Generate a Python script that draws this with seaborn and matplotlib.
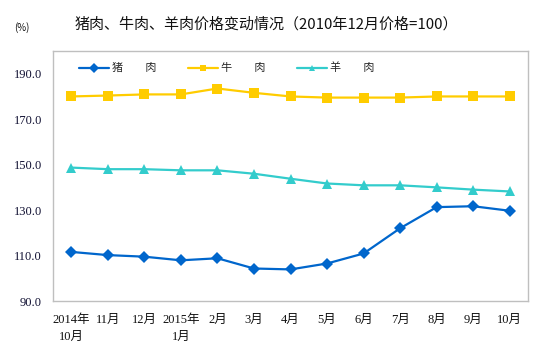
import matplotlib
matplotlib.use("Agg")
import matplotlib.pyplot as plt
import seaborn as sns
import pandas as pd

months = ["2014年\n10月", "11月", "12月", "2015年\n1月", "2月", "3月", "4月",
          "5月", "6月", "7月", "8月", "9月", "10月"]
pork = [111.6, 110.2, 109.5, 107.9, 108.8, 104.3, 103.9, 106.5, 110.9, 122.0, 131.3, 131.7, 129.7]
beef = [180.0, 180.4, 180.9, 180.9, 183.5, 181.6, 180.0, 179.5, 179.5, 179.5, 180.0, 180.0, 180.0]
lamb = [148.7, 148.0, 148.0, 147.5, 147.5, 146.0, 143.8, 141.7, 140.9, 140.9, 140.0, 139.0, 138.2]
series_names = ["猪　　肉", "牛　　肉", "羊　　肉"]
yticks = [90, 110, 130, 150, 170, 190]

sns.set_theme(style="white")
plt.rcParams['font.family'] = ['Liberation Serif', 'Noto Sans CJK SC', 'DejaVu Sans']

rows = []
for name, vals in zip(series_names, [pork, beef, lamb]):
    for i, v in enumerate(vals):
        rows.append({"x": i, "value": v, "series": name})
df = pd.DataFrame(rows)

fig = plt.figure(figsize=(5.47, 3.53), dpi=100)
ax = fig.add_axes([53/547, 1-301/353, (528-53)/547, (301-51)/353])

palette = {series_names[0]: "#0066CC", series_names[1]: "#FFCC00", series_names[2]: "#33CCCC"}
markers = {series_names[0]: "D", series_names[1]: "s", series_names[2]: "^"}
sns.lineplot(data=df, x="x", y="value", hue="series", style="series",
             palette=palette, markers=markers, dashes=False, linewidth=1.6,
             markersize=6.5, markeredgewidth=0, ax=ax, sort=False)

ax.set_xlim(-0.5, len(months) - 0.5)
ax.set_ylim(90, 200)
ax.set_xticks(range(len(months)))
ax.set_xticklabels(months, fontsize=9, color="#111111", linespacing=1.6)
ax.set_yticks(yticks)
ax.set_yticklabels([f"{v:.1f}" for v in yticks], fontsize=9, color="#111133")
ax.tick_params(axis="x", length=0, pad=9)
ax.tick_params(axis="y", length=0, pad=8)
ax.set_xlabel("")
ax.set_ylabel("")
for s in ax.spines.values():
    s.set_color("#BFBFBF")
    s.set_linewidth(1)

leg = ax.legend(loc="center left", bbox_to_anchor=(0.054, 1-(68-51)/250), ncol=3, frameon=False,
                handlelength=2.7, columnspacing=2.8, handletextpad=0.3, markerscale=0.75,
                borderaxespad=0, borderpad=0,
                prop={'family': ['Noto Sans CJK SC'], 'size': 8})

fig.text(266/547, 1-24/353, "猪肉、牛肉、羊肉价格变动情况（2010年12月价格=100）",
         ha="center", va="center", fontsize=10.8, family=['Noto Sans CJK SC'], color="#111111")
fig.text(22/547, 1-28/353, "(%)", ha="center", va="center", fontsize=7,
         family=['Noto Sans CJK SC', 'DejaVu Sans'], color="#111111")

fig.savefig("out.png", dpi=100)
